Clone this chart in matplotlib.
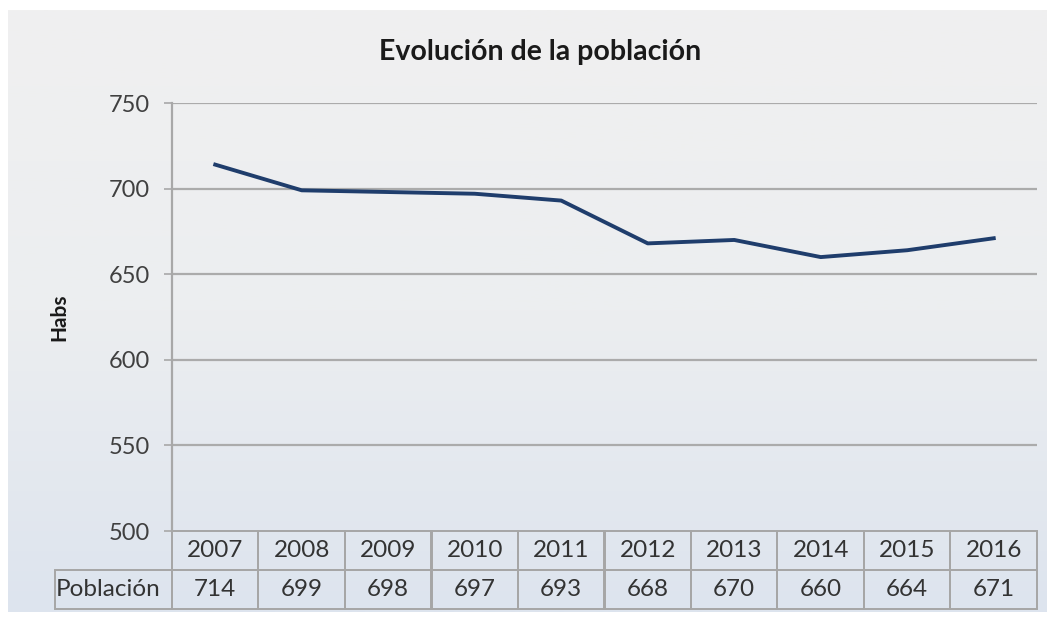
import numpy as np
import matplotlib
matplotlib.use("Agg")
import matplotlib.pyplot as plt
from matplotlib.colors import LinearSegmentedColormap

plt.rcParams["font.family"] = ["Lato", "DejaVu Sans"]

years = ["2007", "2008", "2009", "2010", "2011", "2012", "2013", "2014", "2015", "2016"]
poblacion = [714, 699, 698, 697, 693, 668, 670, 660, 664, 671]
row_label = "Población"
title = "Evolución de la población"
ylabel = "Habs"
yticks = [500, 550, 600, 650, 700, 750]

W, H = 1055, 619
fig = plt.figure(figsize=(W / 100, H / 100), dpi=100)
fig.patch.set_facecolor("white")

# gradient background of the chart area
bg = fig.add_axes([8 / W, (H - 612) / H, (1047 - 8) / W, (612 - 10) / H])
cmap = LinearSegmentedColormap.from_list("bg", ["#f0f0f0", "#eceef0", "#dde4ee"])
grad = np.linspace(0, 1, 256).reshape(-1, 1)
bg.imshow(grad, aspect="auto", cmap=cmap, extent=[0, 1, 0, 1], origin="upper")
bg.set_axis_off()

x0, x1 = 172, 1037
y_top, y_bot = 103, 531
ax = fig.add_axes([x0 / W, (H - y_bot) / H, (x1 - x0) / W, (y_bot - y_top) / H])
ax.patch.set_alpha(0)

xs = np.arange(len(years))
ax.plot(xs, poblacion, color="#1f3d6c", lw=2.8, solid_joinstyle="round", zorder=3)
ax.set_xlim(-0.5, len(years) - 0.5)
ax.set_ylim(500, 750)
ax.set_yticks(yticks)
ax.set_yticklabels([str(t) for t in yticks], fontsize=17, color="#404040")
ax.tick_params(axis="y", length=6, width=1.2, color="#a8a8a8", pad=10)
ax.set_xticks([])
for t in yticks[1:]:
    ax.axhline(t, color="#ababab", lw=1.6, zorder=1)
for s in ["top", "right", "bottom"]:
    ax.spines[s].set_visible(False)
ax.spines["left"].set_color("#a8a8a8")
ax.spines["left"].set_linewidth(1.6)

ax.set_ylabel(ylabel, fontsize=15, fontweight="bold", color="#1a1a1a", labelpad=28)
fig.text(540 / W, 1 - 52 / H, title, ha="center", va="center",
         fontsize=20.5, fontweight="bold", color="#1a1a1a")

# data table below the plot
lbl_left = 55
label_w = (x0 - lbl_left) / (x1 - x0)
tab_h = (609 - y_bot) / (y_bot - y_top)
cell_text = [[""] + years, [row_label] + [str(v) for v in poblacion]]
col_w = [label_w] + [1 / len(years)] * len(years)
tab = ax.table(cellText=cell_text, colWidths=col_w, cellLoc="center",
               bbox=[-label_w, -tab_h, 1 + label_w, tab_h])
tab.auto_set_font_size(False)
for (r, c), cell in tab.get_celld().items():
    cell.set_facecolor("none")
    cell.set_edgecolor("#a6a6a6")
    cell.set_linewidth(1.4)
    cell.get_text().set_fontsize(17.5)
    cell.get_text().set_color("#333333")
    if r == 0 and c == 0:
        cell.visible_edges = ""
    if c == 0 and r == 1:
        cell.get_text().set_ha("left")
        cell.PAD = 0.01

fig.savefig("out.png", dpi=100)
